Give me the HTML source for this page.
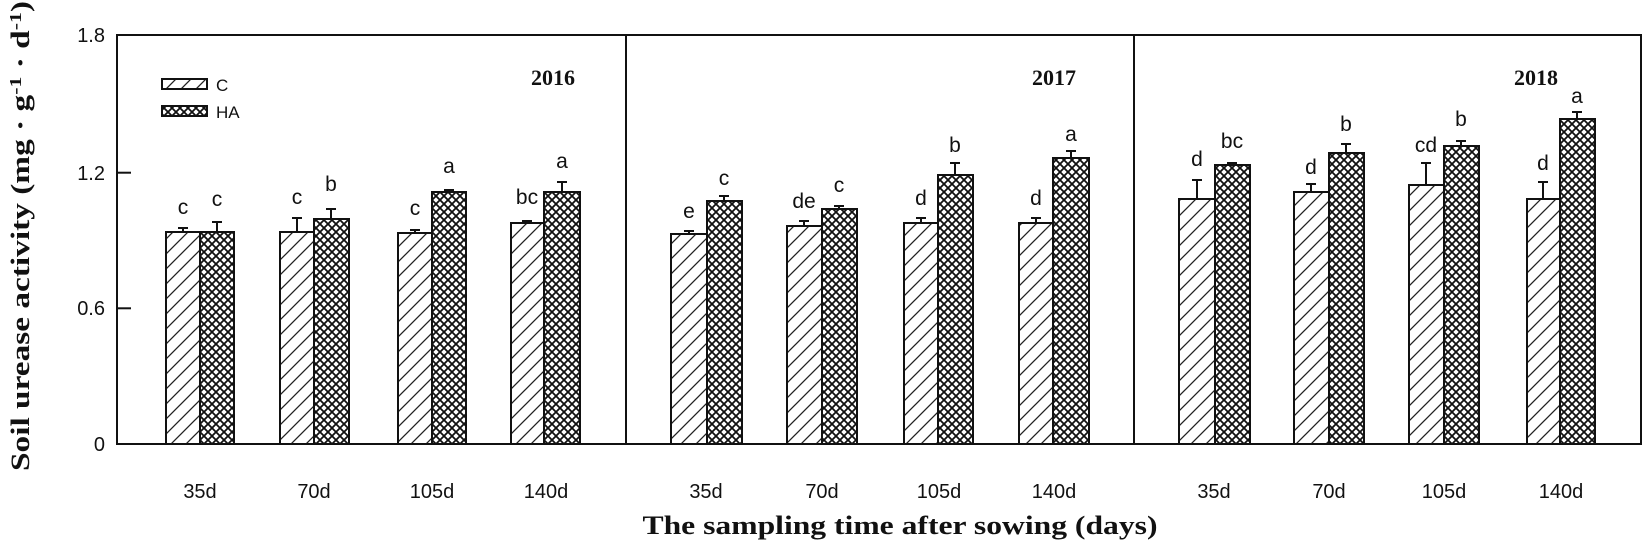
<!DOCTYPE html>
<html><head><meta charset="utf-8"><style>
html,body{margin:0;padding:0;background:#fff;}
svg{display:block;}
text{font-family:"Liberation Sans",Arial,sans-serif;fill:#111;}
.s{font-family:"Liberation Serif","Times New Roman",serif;font-weight:bold;}
</style></head><body>
<svg width="1645" height="545" viewBox="0 0 1645 545" xmlns="http://www.w3.org/2000/svg">
<defs>
<pattern id="hc" patternUnits="userSpaceOnUse" width="15" height="15">
<rect width="15" height="15" fill="#fff"/>
<path d="M-2,17 L17,-2 M-4,4 L4,-4 M11,19 L19,11" stroke="#222" stroke-width="1.3"/>
</pattern>
<pattern id="hx" patternUnits="userSpaceOnUse" width="8" height="8">
<rect width="8" height="8" fill="#fff"/>
<path d="M0,0 L8,8 M8,0 L0,8" stroke="#111" stroke-width="1.8"/>
</pattern>
</defs>
<g stroke="#111" stroke-width="2" fill="none">
<rect x="117" y="35" width="1524" height="409"/>
<line x1="626" y1="35" x2="626" y2="444"/>
<line x1="1134" y1="35" x2="1134" y2="444"/>
<line x1="117" y1="172.7" x2="131" y2="172.7"/>
<line x1="117" y1="308.3" x2="131" y2="308.3"/>
</g>
<g font-size="20" text-anchor="end">
<text x="105" y="42">1.8</text>
<text x="105" y="180">1.2</text>
<text x="105" y="315">0.6</text>
<text x="105" y="451">0</text>
</g>
<text class="s" font-size="26" transform="translate(29,236) rotate(-90)" text-anchor="middle" textLength="470" lengthAdjust="spacingAndGlyphs">Soil urease activity (mg · g<tspan dy="-8" font-size="17">-1</tspan><tspan dy="8"> · d</tspan><tspan dy="-8" font-size="17">-1</tspan><tspan dy="8">)</tspan></text>
<text class="s" font-size="26" x="900" y="534" text-anchor="middle" textLength="515" lengthAdjust="spacingAndGlyphs">The sampling time after sowing (days)</text>
<rect x="162" y="79" width="45" height="10" fill="url(#hc)" stroke="#111" stroke-width="2"/>
<rect x="162" y="106" width="45" height="10" fill="url(#hx)" stroke="#111" stroke-width="2"/>
<text x="216" y="91" font-size="17">C</text>
<text x="216" y="118" font-size="17">HA</text>
<g font-size="22" text-anchor="middle">
<text class="s" x="553" y="85">2016</text>
<text class="s" x="1054" y="85">2017</text>
<text class="s" x="1536" y="85">2018</text>
</g>
<g font-size="20" text-anchor="middle">
<text x="200" y="498">35d</text><text x="314" y="498">70d</text><text x="432" y="498">105d</text><text x="546" y="498">140d</text>
<text x="706" y="498">35d</text><text x="822" y="498">70d</text><text x="939" y="498">105d</text><text x="1054" y="498">140d</text>
<text x="1214" y="498">35d</text><text x="1329" y="498">70d</text><text x="1444" y="498">105d</text><text x="1561" y="498">140d</text>
</g>
<g stroke="#111" stroke-width="2" fill="none">
<rect x="166" y="232" width="34" height="212" fill="url(#hc)"/><rect x="200" y="232" width="34" height="212" fill="url(#hx)"/>
<path d="M183,232V228M178,228H188M217,232V222M212,222H222"/>
<rect x="280" y="232" width="34" height="212" fill="url(#hc)"/><rect x="314" y="219" width="35" height="225" fill="url(#hx)"/>
<path d="M297,232V218M292,218H302M331,219V209M326,209H336"/>
<rect x="398" y="233" width="34" height="211" fill="url(#hc)"/><rect x="432" y="192" width="34" height="252" fill="url(#hx)"/>
<path d="M415,233V230M410,230H420M449,192V190M444,190H454"/>
<rect x="511" y="223" width="33" height="221" fill="url(#hc)"/><rect x="544" y="192" width="36" height="252" fill="url(#hx)"/>
<path d="M527,223V221M522,221H532M562,192V182M557,182H567"/>

<rect x="671" y="234" width="36" height="210" fill="url(#hc)"/><rect x="707" y="201" width="35" height="243" fill="url(#hx)"/>
<path d="M689,234V231M684,231H694M724,201V196M719,196H729"/>
<rect x="787" y="226" width="35" height="218" fill="url(#hc)"/><rect x="822" y="209" width="35" height="235" fill="url(#hx)"/>
<path d="M804,226V221M799,221H809M839,209V206M834,206H844"/>
<rect x="904" y="223" width="34" height="221" fill="url(#hc)"/><rect x="938" y="175" width="35" height="269" fill="url(#hx)"/>
<path d="M921,223V218M916,218H926M955,175V163M950,163H960"/>
<rect x="1019" y="223" width="34" height="221" fill="url(#hc)"/><rect x="1053" y="158" width="36" height="286" fill="url(#hx)"/>
<path d="M1036,223V218M1031,218H1041M1071,158V151M1066,151H1076"/>

<rect x="1179" y="199" width="36" height="245" fill="url(#hc)"/><rect x="1215" y="165" width="35" height="279" fill="url(#hx)"/>
<path d="M1197,199V180M1192,180H1202M1232,165V163M1227,163H1237"/>
<rect x="1294" y="192" width="35" height="252" fill="url(#hc)"/><rect x="1329" y="153" width="35" height="291" fill="url(#hx)"/>
<path d="M1311,192V184M1306,184H1316M1346,153V144M1341,144H1351"/>
<rect x="1409" y="185" width="35" height="259" fill="url(#hc)"/><rect x="1444" y="146" width="35" height="298" fill="url(#hx)"/>
<path d="M1426,185V163M1421,163H1431M1461,146V141M1456,141H1466"/>
<rect x="1527" y="199" width="33" height="245" fill="url(#hc)"/><rect x="1560" y="119" width="35" height="325" fill="url(#hx)"/>
<path d="M1543,199V182M1538,182H1548M1577,119V112M1572,112H1582"/>
</g>
<g font-size="21" text-anchor="middle">
<text x="183" y="214">c</text><text x="217" y="206">c</text>
<text x="297" y="204">c</text><text x="331" y="191">b</text>
<text x="415" y="215">c</text><text x="449" y="173">a</text>
<text x="527" y="204">bc</text><text x="562" y="168">a</text>
<text x="689" y="218">e</text><text x="724" y="185">c</text>
<text x="804" y="208">de</text><text x="839" y="192">c</text>
<text x="921" y="205">d</text><text x="955" y="152">b</text>
<text x="1036" y="205">d</text><text x="1071" y="141">a</text>
<text x="1197" y="166">d</text><text x="1232" y="148">bc</text>
<text x="1311" y="174">d</text><text x="1346" y="131">b</text>
<text x="1426" y="152">cd</text><text x="1461" y="126">b</text>
<text x="1543" y="170">d</text><text x="1577" y="103">a</text>
</g>
</svg>
</body></html>
